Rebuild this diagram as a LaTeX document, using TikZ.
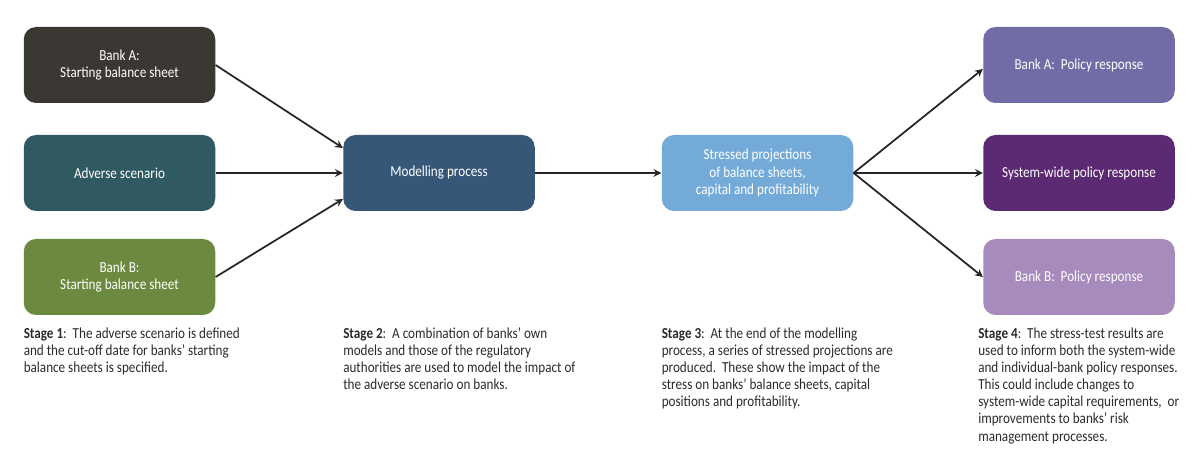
\documentclass[tikz,border=0pt]{standalone}
\usepackage{fontspec}
\setmainfont{Carlito}[FakeStretch=0.86]
\usepackage{tikz}
\usetikzlibrary{shapes,arrows,positioning,calc}
\usepackage{xcolor}
\definecolor{bankagray}{HTML}{3B3733}
\definecolor{scenteal}{HTML}{2F5A61}
\definecolor{bankbgreen}{HTML}{6B8A40}
\definecolor{modelblue}{HTML}{375778}
\definecolor{projblue}{HTML}{74AAD8}
\definecolor{polapurple}{HTML}{716CA6}
\definecolor{syspurple}{HTML}{5B2A73}
\definecolor{polbpurple}{HTML}{A78BBD}
\definecolor{textgray}{HTML}{2B2B2B}

\begin{document}
\begin{tikzpicture}[
    box/.style={rectangle, rounded corners=7pt, minimum width=3.83cm,
                minimum height=1.52cm, text=white, align=center,
                font=\fontsize{8.7}{9.75}\selectfont},
    stagetext/.style={inner sep=0pt, align=left, text=textgray,
                      font=\fontsize{8.7}{9.75}\selectfont},
    arrow/.style={->, line width=1pt, >=stealth, color=black!85}
]
\useasboundingbox (0,0) rectangle (24,-9.22);

% Inputs
\node[box, fill=bankagray] (bankA) at (2.39,-1.30) {Bank A:\\Starting balance sheet};
\node[box, fill=scenteal] (adverse) at (2.39,-3.46) {Adverse scenario};
\node[box, fill=bankbgreen] (bankB) at (2.39,-5.54) {Bank B:\\Starting balance sheet};

% Modelling and projections
\node[box, fill=modelblue] (model) at (8.78,-3.46) {Modelling process};
\node[box, fill=projblue] (proj) at (15.15,-3.46) {Stressed projections\\of balance sheets,\\capital and profitability};

% Policy responses
\node[box, fill=polapurple] (polA) at (21.58,-1.30) {Bank A:~~Policy response};
\node[box, fill=syspurple] (syswide) at (21.58,-3.46) {System-wide policy response};
\node[box, fill=polbpurple] (polB) at (21.58,-5.54) {Bank B:~~Policy response};

% Arrows
\draw[arrow] (bankA.east) -- ([yshift=0.5cm]model.west);
\draw[arrow] (adverse) -- (model);
\draw[arrow] (bankB.east) -- ([yshift=-0.52cm]model.west);
\draw[arrow] (model) -- (proj);
\draw[arrow] (proj.east) -- ([yshift=-0.08cm]polA.west);
\draw[arrow] (proj.east) -- (syswide.west);
\draw[arrow] (proj.east) -- (polB.west);

% Stage descriptions
\node[stagetext, below=0.24cm of bankB.south west, anchor=north west] (stage1)
     {\textbf{Stage 1}:~~The adverse scenario is defined\\and the cut-off date for banks' starting\\balance sheets is specified.};
\node[stagetext, anchor=north west] (stage2) at (model.west |- stage1.north)
     {\textbf{Stage 2}:~~A combination of banks' own\\models and those of the regulatory\\authorities are used to model the impact of\\the adverse scenario on banks.};
\node[stagetext, anchor=north west] (stage3) at (proj.west |- stage1.north)
     {\textbf{Stage 3}:~~At the end of the modelling\\process, a series of stressed projections are\\produced.~~These show the impact of the\\stress on banks' balance sheets, capital\\positions and profitability.};
\node[stagetext, anchor=north west, xshift=-0.1cm] (stage4) at (polB.west |- stage1.north)
     {\textbf{Stage 4}:~~The stress-test results are\\used to inform both the system-wide\\and individual-bank policy responses.\\This could include changes to\\system-wide capital requirements,~~or\\improvements to banks' risk\\management processes.};

\end{tikzpicture}
\end{document}
